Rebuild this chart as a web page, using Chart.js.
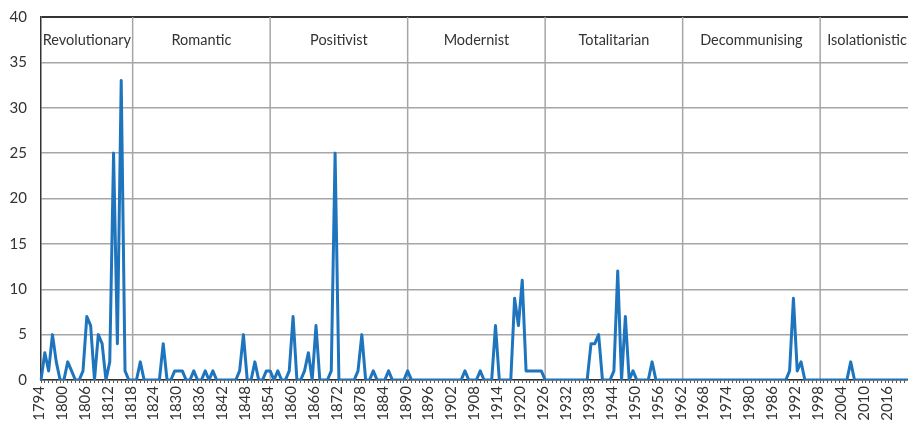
<!DOCTYPE html>
<html><head><meta charset="utf-8">
<script src="https://cdn.jsdelivr.net/npm/chart.js@4.4.0/dist/chart.umd.min.js"></script>
<style>html,body{margin:0;padding:0;background:#fff;overflow:hidden}#wrap{width:908px;height:424px;position:relative}</style>
</head><body><div id="wrap"><canvas id="c" width="908" height="424"></canvas></div>
<script>
const firstYear = 1794;
const lastYear = 2021;
const labelStep = 6;

const periodNames  = ['Revolutionary','Romantic','Positivist','Modernist','Totalitarian','Decommunising','Isolationistic'];
const periodStarts = [1794, 1818, 1854, 1890, 1926, 1962, 1998];
const periodEnds   = [1818, 1854, 1890, 1926, 1962, 1998, 2034];

// values per period (one value per year)
const revolutionary  = [0,3,1,5,2,0,0,2,1,0, 0,1,7,6,0,5,4,0,2,25, 4,33,1,0];                       // 1794-1817
const romantic       = [0,0,2,0,0,0,0,0,4,0, 0,1,1,1,0,0,1,0,0,1, 0,1,0,0,0,0,0,0,1,5, 0,0,2,0,0,1]; // 1818-1853
const positivist     = [1,0,1,0,0,1,7,0,0,1, 3,0,6,0,0,0,1,25,0,0, 0,0,0,1,5,0,0,1,0,0, 0,1,0,0,0,0]; // 1854-1889
const modernist      = [1,0,0,0,0,0,0,0,0,0, 0,0,0,0,0,1,0,0,0,1, 0,0,0,6,0,0,0,0,9,6, 11,1,1,1,1,1]; // 1890-1925
const totalitarian   = [0,0,0,0,0,0,0,0,0,0, 0,0,4,4,5,0,0,0,1,12, 0,7,0,1,0,0,0,0,2,0, 0,0,0,0,0,0]; // 1926-1961
const decommunising  = [0,0,0,0,0,0,0,0,0,0, 0,0,0,0,0,0,0,0,0,0, 0,0,0,0,0,0,0,0,1,9, 1,2,0,0,0,0]; // 1962-1997
const isolationistic = [0,0,0,0,0,0,0,0,2,0, 0,0,0,0,0,0,0,0,0,0, 0,0,0,0];                       // 1998-2021

const years = [];
for (let y = firstYear; y <= lastYear; y++) years.push(String(y));
const values = [].concat(revolutionary, romantic, positivist, modernist, totalitarian, decommunising, isolationistic);

const FONT = 'Lato';
const TEXT = '#333333';
const GRID = '#a6a6a6';

const periodPlugin = {
  id: 'periods',
  beforeDatasetsDraw(chart) {
    const {ctx, chartArea: a, scales: {x, y}} = chart;
    ctx.save();
    ctx.strokeStyle = GRID;
    ctx.lineWidth = 1.5;
    periodStarts.forEach((s, i) => {
      if (i === 0) return;
      const px = x.getPixelForValue(s - firstYear);
      ctx.beginPath(); ctx.moveTo(px, a.top); ctx.lineTo(px, a.bottom); ctx.stroke();
    });
    ctx.fillStyle = TEXT;
    ctx.font = '14.5px ' + FONT;
    ctx.textBaseline = 'middle';
    const ty = (y.getPixelForValue(40) + y.getPixelForValue(35)) / 2 + 1;
    periodNames.forEach((n, i) => {
      const x1 = x.getPixelForValue(periodStarts[i] - firstYear);
      const x2 = x.getPixelForValue(periodEnds[i] - firstYear);
      const w = ctx.measureText(n).width;
      const cx = (x1 + x2) / 2;
      if (cx + w / 2 > a.right) { ctx.textAlign = 'left'; ctx.fillText(n, x1 + 7, ty); }
      else { ctx.textAlign = 'center'; ctx.fillText(n, cx, ty); }
    });
    ctx.restore();
  }
};

new Chart(document.getElementById('c'), {
  type: 'line',
  data: {
    labels: years,
    datasets: [{
      data: values,
      borderColor: '#1f75bd',
      borderWidth: 3,
      pointRadius: 0,
      tension: 0,
      borderJoinStyle: 'round',
      fill: false
    }]
  },
  options: {
    responsive: false,
    animation: false,
    devicePixelRatio: 1,
    layout: {padding: {top: 17, left: 0, right: 0, bottom: 0}},
    plugins: {legend: {display: false}, tooltip: {enabled: false}},
    scales: {
      x: {
        type: 'category',
        offset: false,
        border: {display: true, color: '#333', width: 1.5},
        grid: {display: true, drawOnChartArea: false, drawTicks: true, tickLength: 3, tickColor: '#555', tickWidth: 1},
        ticks: {
          autoSkip: false, minRotation: 90, maxRotation: 90, padding: 3, labelOffset: -2,
          color: TEXT, font: {family: FONT, size: 15},
          callback: (v, i) => (i % labelStep === 0 ? years[i] : '')
        },
        afterFit(s) { s.paddingLeft = 0; s.paddingRight = 0; s.paddingTop = 0; s.paddingBottom = 0; s.height = 44; }
      },
      y: {
        min: 0, max: 40,
        border: {display: true, color: '#333', width: 1.5},
        grid: {
          drawTicks: false,
          color: c => (c.tick && c.tick.value === 40 ? '#333' : GRID),
          lineWidth: c => (c.tick && c.tick.value === 40 ? 2 : 1.5)
        },
        ticks: {stepSize: 5, padding: 14, color: TEXT, font: {family: FONT, size: 15}},
        afterFit(s) { s.paddingTop = 0; s.paddingBottom = 0; s.paddingLeft = 0; s.paddingRight = 0; s.width = 41; }
      }
    }
  },
  plugins: [periodPlugin]
});
</script>
</body></html>
